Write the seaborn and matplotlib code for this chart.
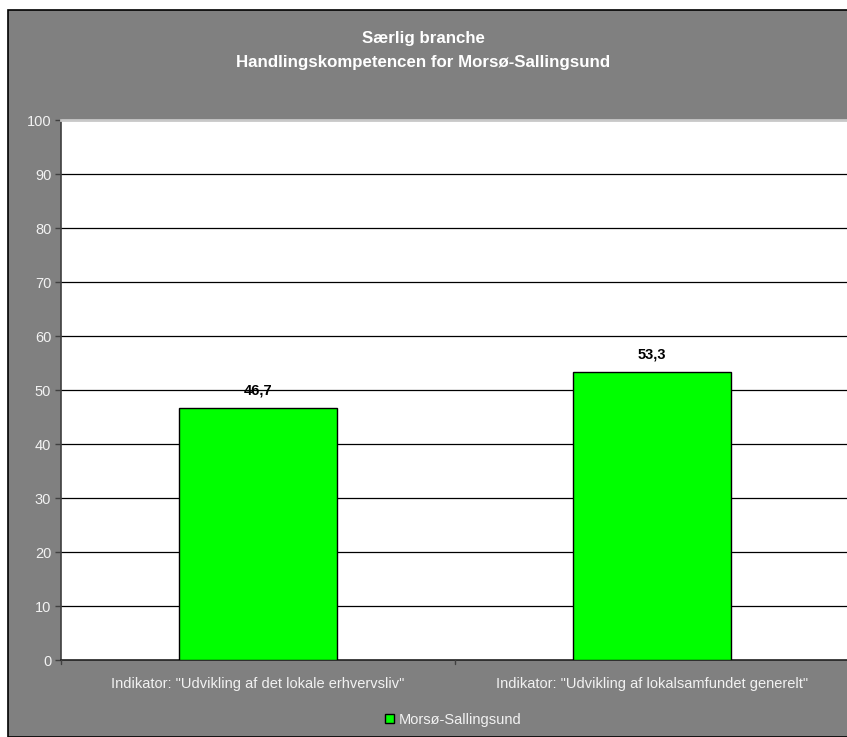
import matplotlib
matplotlib.use("Agg")
import matplotlib.pyplot as plt
from matplotlib.patches import Rectangle, Patch
import seaborn as sns
import pandas as pd

categories = ['Indikator: "Udvikling af det lokale erhvervsliv"',
              'Indikator: "Udvikling af lokalsamfundet generelt"']
values = [46.7, 53.3]
series = "Morsø-Sallingsund"
value_labels = ["46,7", "53,3"]
yticks = list(range(0, 101, 10))

sns.set_theme(style="white")
plt.rcParams["font.family"] = ["Liberation Sans", "DejaVu Sans"]

W, H = 847, 737
LIGHT = "#f2f2f2"
fig = plt.figure(figsize=(W / 100, H / 100), dpi=100)
fig.patch.set_facecolor("white")

# grey chart frame
fig.patches.append(Rectangle((8 / W, 0), 1.0, 1 - 10 / H, transform=fig.transFigure,
                             facecolor="#808080", edgecolor="black", linewidth=1.2, zorder=-10))

ax = fig.add_axes([61 / W, 1 - 660 / H, 1 - 61 / W + 0.002, (660 - 120) / H])
ax.set_zorder(1)
ax.set_facecolor("white")

df = pd.DataFrame({"cat": categories, "val": values, "series": series})
sns.barplot(data=df, x="cat", y="val", hue="series", palette=["#00ff00"], saturation=1,
            width=0.4, edgecolor="black", linewidth=1.0, ax=ax, legend=False, zorder=3)

ax.set_ylim(0, 100)
ax.set_xlim(-0.5, 1.5)
ax.set_yticks(yticks)
ax.set_yticklabels([str(t) for t in yticks], color=LIGHT, fontsize=10.5)
ax.set_xticks([0, 1])
ax.set_xticklabels(categories, color=LIGHT, fontsize=10.5)
ax.tick_params(axis="y", length=4, width=1, color="#404040", pad=3, left=True)
ax.tick_params(axis="x", length=0, pad=12)
ax.set_xlabel("")
ax.set_ylabel("")

for t in yticks[1:-1]:
    ax.axhline(t, color="black", linewidth=0.9, zorder=1)

# category separator ticks on the x axis
for xpos in [-0.5, 0.5]:
    ax.plot([xpos, xpos], [0, -0.8], color="#404040", linewidth=1, clip_on=False, zorder=4)

ax.spines["left"].set_color("#404040")
ax.spines["left"].set_linewidth(1.2)
ax.spines["bottom"].set_color("#202020")
ax.spines["bottom"].set_linewidth(1.2)
ax.spines["top"].set_color("#c8c8c8")
ax.spines["top"].set_linewidth(2)
ax.spines["right"].set_visible(False)

for i, (v, lab) in enumerate(zip(values, value_labels)):
    ax.text(i, v + 2.0, lab, ha="center", va="bottom", fontsize=10.5,
            fontweight="bold", color="black", zorder=5)

fig.text(0.5, 1 - 39 / H, "Særlig branche", ha="center", va="center",
         fontsize=12.2, fontweight="bold", color="white")
fig.text(0.5, 1 - 62 / H, "Handlingskompetencen for Morsø-Sallingsund", ha="center",
         va="center", fontsize=12.2, fontweight="bold", color="white")

handle = Patch(facecolor="#00ff00", edgecolor="black", linewidth=1)
leg = fig.legend([handle], [series], loc="center", bbox_to_anchor=(0.535, 1 - 720 / H),
                 frameon=False, fontsize=10.5, handlelength=0.6, handleheight=0.6,
                 handletextpad=0.3)
for txt in leg.get_texts():
    txt.set_color(LIGHT)

fig.savefig("out.png", dpi=100, facecolor=fig.get_facecolor())
